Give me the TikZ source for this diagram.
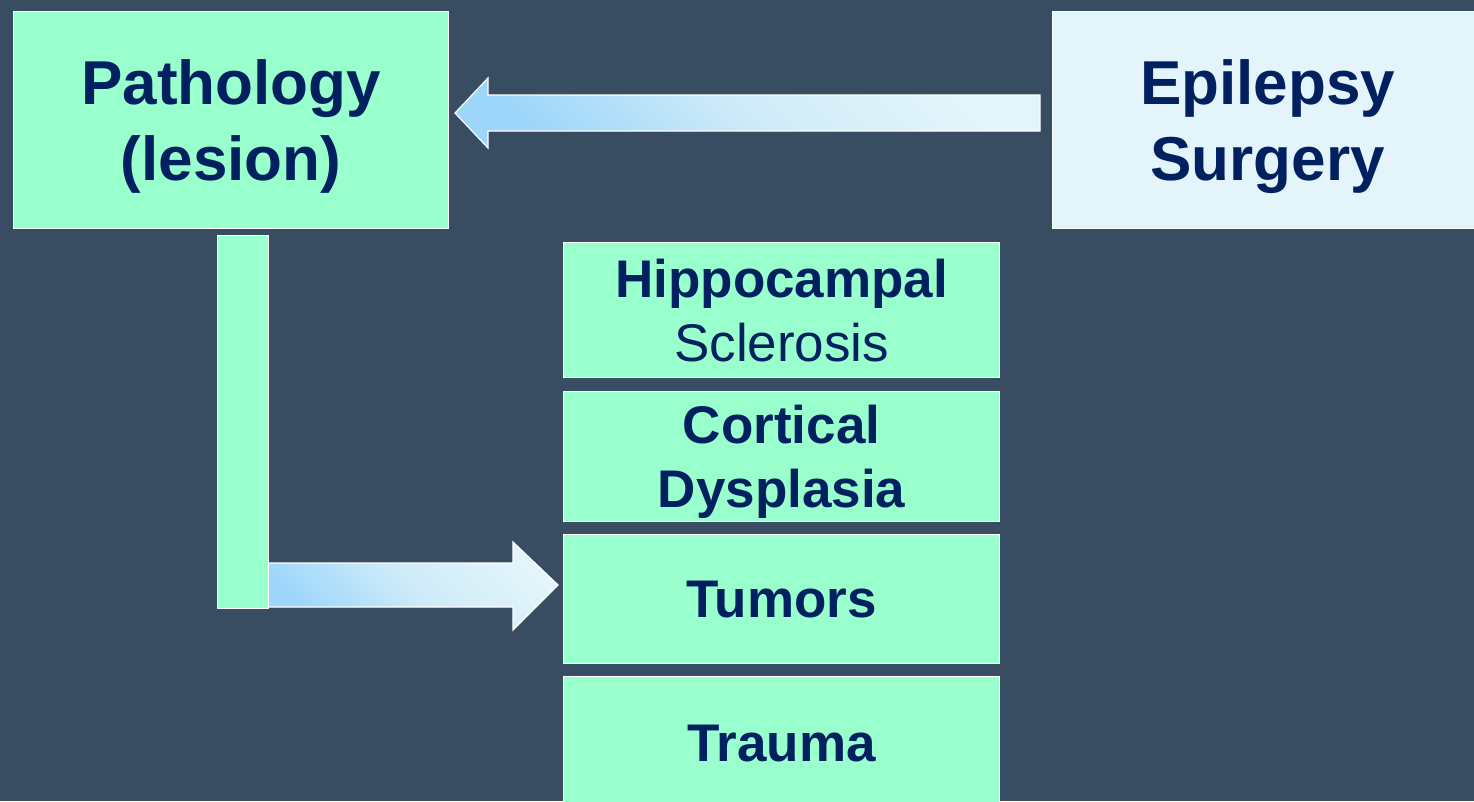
\documentclass[tikz,border=0pt]{standalone}
\usepackage{fontspec}
\setmainfont{Liberation Sans}
\usetikzlibrary{calc}
\definecolor{bg}{HTML}{384D62}
\definecolor{mint}{HTML}{99FFCC}
\definecolor{pale}{HTML}{E3F5FA}
\definecolor{navy}{HTML}{00205F}
\definecolor{sky}{HTML}{9DD6FA}
\definecolor{skymid}{HTML}{CFEBF9}
\tikzset{
  box/.style={draw=white, line width=1.3pt, fill=mint, text=navy, align=center,
    inner sep=0pt, anchor=north west, text depth=0pt},
  bigtext/.style={font=\fontsize{62}{76}\selectfont\bfseries},
  midtext/.style={font=\fontsize{53}{64}\selectfont\bfseries},
  arrowfill/.style={draw=white, line width=1.2pt, shading=axis,
    bottom color=sky, top color=pale, middle color=skymid, shading angle=-45},
}
\begin{document}
\begin{tikzpicture}[x=1pt,y=-1pt]
\useasboundingbox (0,0) rectangle (1474,801);
\clip (0,0) rectangle (1474,801);
\fill[bg] (0,0) rectangle (1474,801);
% main boxes
\node[box, bigtext, minimum width=435pt, minimum height=217pt] (path) at (13,11) {Pathology\\(lesion)};
\node[box, bigtext, fill=pale, minimum width=430pt, minimum height=217pt] (epi) at (1052,11) {Epilepsy\\Surgery};
% top arrow
\coordinate (tb) at (455,113);
\coordinate (ta) at (1040,113);
\path[arrowfill] (tb) -- ++(33,-35) -- ++(0,17) -- ($(ta)+(0,-18)$) -- ($(ta)+(0,18)$) -- ++(-552,0) -- ++(0,17) -- cycle;
% lower arrow
\coordinate (la) at (268,585);
\coordinate (lb) at (558,585);
\path[arrowfill] ($(la)+(0,-22)$) -- ++(245,0) -- ++(0,-21) -- (lb) -- ++(-45,45) -- ++(0,-23) -- ($(la)+(0,22)$) -- cycle;
% vertical bar
\node[box, minimum width=51pt, minimum height=373pt] (bar) at (217,235) {};
% pathology list
\node[box, midtext, minimum width=436pt, minimum height=135pt] (hip) at (563,242) {Hippocampal\\\mdseries Sclerosis};
\node[box, midtext, minimum width=436pt, minimum height=130pt] (cort) at (563,391) {Cortical\\Dysplasia};
\node[box, midtext, minimum width=436pt, minimum height=129pt] (tum) at (563,534) {Tumors};
\node[box, midtext, minimum width=436pt, minimum height=134pt] (tra) at (563,676) {Trauma};
\end{tikzpicture}
\end{document}
